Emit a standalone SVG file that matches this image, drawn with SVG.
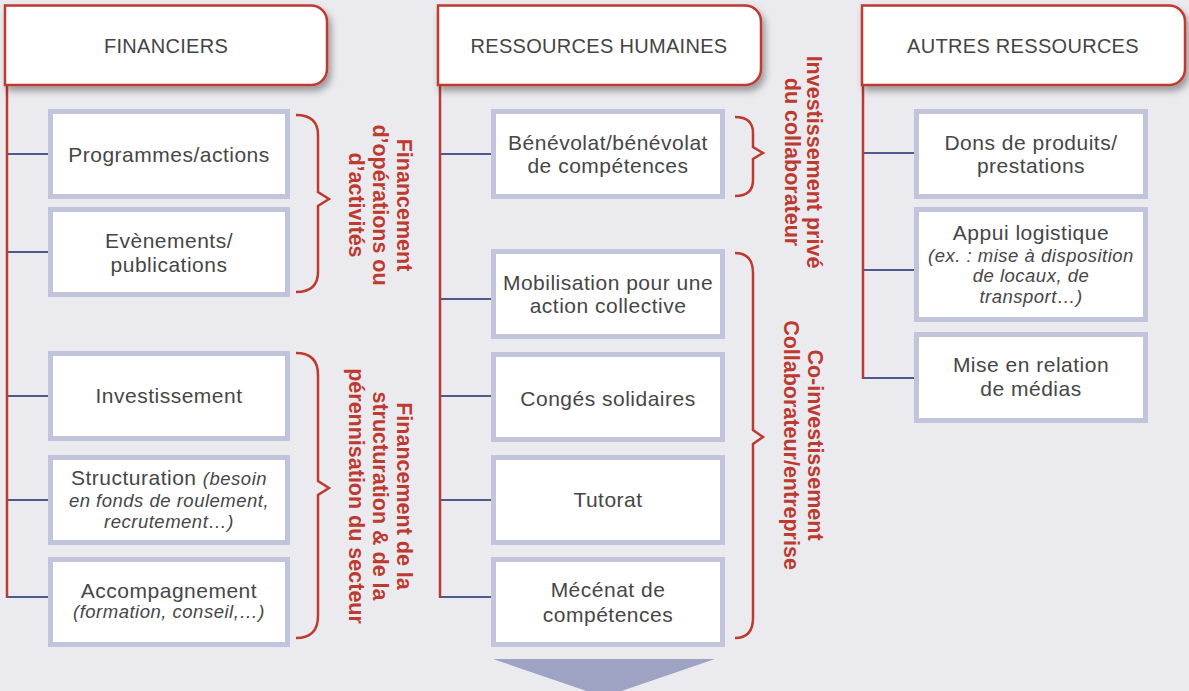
<svg xmlns="http://www.w3.org/2000/svg" width="1189" height="691" viewBox="0 0 1189 691">
<defs>
<filter id="sh" x="-10%" y="-20%" width="125%" height="160%">
<feDropShadow dx="3" dy="5" stdDeviation="3.5" flood-color="#000" flood-opacity="0.35"/>
</filter>
<style>
.hdr{fill:#fff;stroke:#bd3a30;stroke-width:2.5;filter:url(#sh)}
.ht{font-family:"Liberation Sans",Arial,sans-serif;font-size:20px;letter-spacing:0.3px;fill:#444;text-anchor:middle}
.box{fill:#fff;stroke:#c2c4dc;stroke-width:5}
.bt{font-family:"Liberation Sans",Arial,sans-serif;font-size:21px;letter-spacing:0.5px;fill:#464646;text-anchor:middle}
.it{font-style:italic;font-size:18.5px}
.trunk{stroke:#bd3a30;stroke-width:2.5;fill:none}
.con{stroke:#4d5a8e;stroke-width:2;fill:none}
.brace{stroke:#bd3a30;stroke-width:2.5;fill:none;stroke-linejoin:miter}
.rt{font-family:"Liberation Sans",Arial,sans-serif;font-size:21.5px;font-weight:bold;fill:#bd3a30;text-anchor:middle}
</style>
</defs>
<rect x="0" y="0" width="1189" height="691" fill="#ebebef"/>

<g id="connectors">
<line class="trunk" x1="7" y1="85" x2="7" y2="598"/>
<line class="con" x1="8" y1="154" x2="48" y2="154"/>
<line class="con" x1="8" y1="252" x2="48" y2="252"/>
<line class="con" x1="8" y1="396" x2="48" y2="396"/>
<line class="con" x1="8" y1="500" x2="48" y2="500"/>
<line class="con" x1="8" y1="597" x2="48" y2="597"/>
<line class="trunk" x1="440" y1="85" x2="440" y2="598"/>
<line class="con" x1="441" y1="154" x2="491" y2="154"/>
<line class="con" x1="441" y1="299" x2="491" y2="299"/>
<line class="con" x1="441" y1="396" x2="491" y2="396"/>
<line class="con" x1="441" y1="500" x2="491" y2="500"/>
<line class="con" x1="441" y1="597" x2="491" y2="597"/>
<line class="trunk" x1="863" y1="85" x2="863" y2="379"/>
<line class="con" x1="864" y1="153" x2="914" y2="153"/>
<line class="con" x1="864" y1="270" x2="914" y2="270"/>
<line class="con" x1="864" y1="378" x2="914" y2="378"/>
</g>

<g id="h-financiers">
<path class="hdr" d="M5,5.5 H311 A16,16 0 0 1 327,21.5 V69 A16,16 0 0 1 311,85 H5 Z"/>
<text class="ht" x="166" y="53">FINANCIERS</text>
</g>
<g id="h-rh">
<path class="hdr" d="M438,5.5 H745 A16,16 0 0 1 761,21.5 V69 A16,16 0 0 1 745,85 H438 Z"/>
<text class="ht" x="599" y="53">RESSOURCES HUMAINES</text>
</g>
<g id="h-autres">
<path class="hdr" d="M862,5.5 H1169 A16,16 0 0 1 1185,21.5 V69 A16,16 0 0 1 1169,85 H862 Z"/>
<text class="ht" x="1023" y="53">AUTRES RESSOURCES</text>
</g>

<g id="b-programmes">
<rect class="box" x="50.5" y="111.5" width="237" height="85"/>
<text class="bt" x="169" y="162">Programmes/actions</text>
</g>
<g id="b-evenements">
<rect class="box" x="50.5" y="209.5" width="237" height="85"/>
<text class="bt" x="169" y="248">Evènements/</text>
<text class="bt" x="169" y="272">publications</text>
</g>
<g id="b-investissement">
<rect class="box" x="50.5" y="353.5" width="237" height="85"/>
<text class="bt" x="169" y="403">Investissement</text>
</g>
<g id="b-structuration">
<rect class="box" x="50.5" y="457.5" width="237" height="85"/>
<text class="bt" x="169" y="485">Structuration <tspan class="it">(besoin</tspan></text>
<text class="bt it" x="169" y="507">en fonds de roulement,</text>
<text class="bt it" x="169" y="528">recrutement…)</text>
</g>
<g id="b-accompagnement">
<rect class="box" x="50.5" y="559.5" width="237" height="85"/>
<text class="bt" x="169" y="598">Accompagnement</text>
<text class="bt it" x="169" y="618">(formation, conseil,…)</text>
</g>

<g id="b-benevolat">
<rect class="box" x="493.5" y="111.5" width="229" height="85"/>
<text class="bt" x="608" y="150">Bénévolat/bénévolat</text>
<text class="bt" x="608" y="173">de compétences</text>
</g>
<g id="b-mobilisation">
<rect class="box" x="493.5" y="251.5" width="229" height="85"/>
<text class="bt" x="608" y="290">Mobilisation pour une</text>
<text class="bt" x="608" y="313">action collective</text>
</g>
<g id="b-conges">
<rect class="box" x="493.5" y="354.5" width="229" height="85"/>
<text class="bt" x="608" y="406">Congés solidaires</text>
</g>
<g id="b-tutorat">
<rect class="box" x="493.5" y="457.5" width="229" height="85"/>
<text class="bt" x="608" y="507">Tutorat</text>
</g>
<g id="b-mecenat">
<rect class="box" x="493.5" y="559.5" width="229" height="85"/>
<text class="bt" x="608" y="597">Mécénat de</text>
<text class="bt" x="608" y="622">compétences</text>
</g>

<g id="b-dons">
<rect class="box" x="916.5" y="111.5" width="229" height="85"/>
<text class="bt" x="1031" y="150">Dons de produits/</text>
<text class="bt" x="1031" y="173">prestations</text>
</g>
<g id="b-appui">
<rect class="box" x="916.5" y="209.5" width="229" height="110"/>
<text class="bt" x="1031" y="240">Appui logistique</text>
<text class="bt it" x="1031" y="262">(ex. : mise à disposition</text>
<text class="bt it" x="1031" y="282">de locaux, de</text>
<text class="bt it" x="1031" y="303">transport…)</text>
</g>
<g id="b-medias">
<rect class="box" x="916.5" y="334.5" width="229" height="86"/>
<text class="bt" x="1031" y="372">Mise en relation</text>
<text class="bt" x="1031" y="396">de médias</text>
</g>

<g id="brace-operations">
<path class="brace" d="M296,115 Q318,115 318,135 V192 L329,199 L318,206 V272 Q318,292 296,292"/>
<text class="rt" transform="translate(379,205) rotate(90)"><tspan x="0" y="-18">Financement</tspan><tspan x="0" y="6">d’opérations ou</tspan><tspan x="0" y="30">d’activités</tspan></text>
</g>
<g id="brace-structuration">
<path class="brace" d="M296,353 Q318,353 318,375 V481 L329,488 L318,495 V616 Q318,638 296,638"/>
<text class="rt" transform="translate(379,496) rotate(90)"><tspan x="0" y="-18">Financement de la</tspan><tspan x="0" y="6">structuration &amp; de la</tspan><tspan x="0" y="30">pérennisation du secteur</tspan></text>
</g>
<g id="brace-prive">
<path class="brace" d="M735,117 Q753,117 753,133 V147 L763,153 L753,159 V180 Q753,196 735,196"/>
<text class="rt" transform="translate(796,162) rotate(90)"><tspan x="0" y="-11">Investissement privé</tspan><tspan x="0" y="11">du collaborateur</tspan></text>
</g>
<g id="brace-coinvest">
<path class="brace" d="M735,253 Q753,253 753,273 V430 L763,437 L753,444 V618 Q753,638 735,638"/>
<text class="rt" transform="translate(796,445) rotate(90)"><tspan x="0" y="-12">Co-investissement</tspan><tspan x="0" y="12">Collaborateur/entreprise</tspan></text>
</g>

<g id="arrow-down">
<polygon points="493,659 715,659 604,697" fill="#9ea3c3"/>
</g>
</svg>
